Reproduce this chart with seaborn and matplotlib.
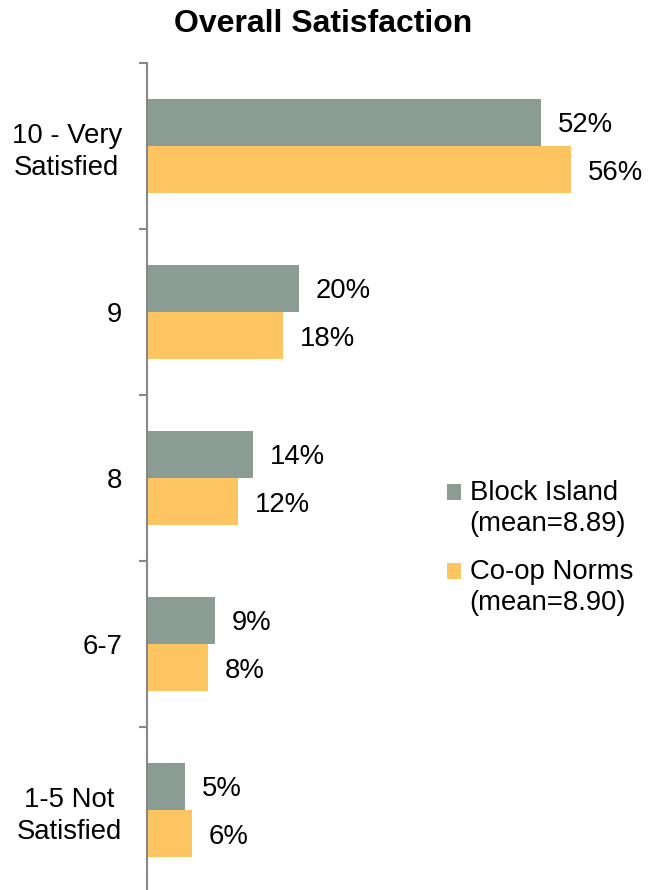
import matplotlib
matplotlib.use("Agg")
import matplotlib.pyplot as plt
import seaborn as sns
import pandas as pd
from matplotlib.patches import Patch, Rectangle
from matplotlib.legend_handler import HandlerPatch

categories = ["10 - Very\nSatisfied", "9", "8", "6-7", "1-5 Not\nSatisfied"]
series = ["Block Island\n(mean=8.89)", "Co-op Norms\n(mean=8.90)"]
block_island = [52, 20, 14, 9, 5]
coop_norms = [56, 18, 12, 8, 6]
colors = ["#8A9C93", "#FDC562"]
title = "Overall Satisfaction"

sns.set_style("white")
plt.rcParams["font.family"] = ["Liberation Sans", "DejaVu Sans"]
plt.rcParams["text.color"] = "black"
plt.rcParams["ytick.labelcolor"] = "black"

df = pd.DataFrame({
    "category": categories * 2,
    "series": [series[0]] * 5 + [series[1]] * 5,
    "value": block_island + coop_norms,
})

FS = 19.8

fig = plt.figure(figsize=(6.57, 8.90), dpi=100)
ax = fig.add_axes([147 / 657, -3 / 890, 500 / 657, 830 / 890])

sns.barplot(data=df, y="category", x="value", hue="series", order=categories,
            hue_order=series, palette=colors, orient="h", width=0.57,
            saturation=1, legend=False, ax=ax, linewidth=0)

for cont, vals in zip(ax.containers, [block_island, coop_norms]):
    ts = ax.bar_label(cont, labels=[f"{v}%" for v in vals], padding=12, fontsize=FS,
                      color="black")
    for t in ts:
        t.set_va("center_baseline")

ax.set_xlim(0, 66)
ax.set_ylim(4.5, -0.5)
ax.set_xlabel("")
ax.set_ylabel("")
ax.set_xticks([])
ax.set_yticks([i - 0.5 for i in range(6)])
ax.set_yticklabels([])
ax.tick_params(axis="y", which="major", length=6, width=1.5, color="#888888", left=True)
ax.set_yticks(range(5), categories, minor=True)
ax.tick_params(axis="y", which="minor", length=0, pad=18, labelsize=FS, labelcolor="black")
for t in ax.get_yticklabels(minor=True):
    t.set_multialignment("center")
    t.set_linespacing(1.3)

for s in ["top", "right", "bottom"]:
    ax.spines[s].set_visible(False)
ax.spines["left"].set_color("#888888")
ax.spines["left"].set_linewidth(1.5)


class TopHandler(HandlerPatch):
    def create_artists(self, legend, orig_handle, xdescent, ydescent, width,
                       height, fontsize, trans):
        r = Rectangle((-xdescent, -ydescent + 0.62 * fontsize), width, height,
                      facecolor=orig_handle.get_facecolor(), edgecolor="none",
                      transform=trans)
        return [r]


handles = [Patch(facecolor=c, edgecolor="none") for c in colors]
leg = ax.legend(handles, series, loc="upper left",
                bbox_to_anchor=((447 - 147) / 500, 1 - (480 - 63) / 830),
                frameon=False, fontsize=FS, handlelength=0.52, handleheight=0.52,
                handletextpad=0.3, labelspacing=0.8, borderpad=0, borderaxespad=0,
                handler_map={Patch: TopHandler()})
for t in leg.get_texts():
    t.set_color("black")
    t.set_linespacing(1.25)

fig.text(323 / 657, 1 - 32 / 890, title, ha="center", va="baseline",
         fontsize=23, fontweight="bold", color="black")

fig.savefig("out.png", dpi=100)
